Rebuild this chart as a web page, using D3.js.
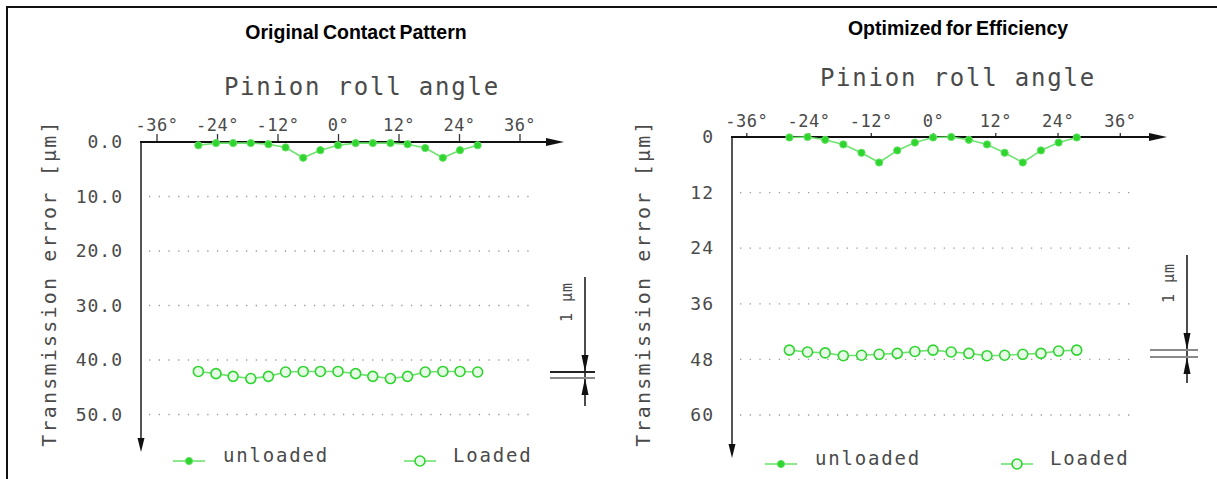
<!DOCTYPE html>
<html>
<head>
<meta charset="utf-8">
<script src="https://cdn.jsdelivr.net/npm/d3@7"></script>
<style>
  html, body { margin: 0; padding: 0; background: #fff; }
  svg { display: block; }
  .cad { font-family: "DejaVu Sans Mono", monospace; fill: #4a4a4a; }
  .title { font-family: "Liberation Sans", Arial, sans-serif; font-weight: bold; fill: #000; }
</style>
</head>
<body>
<svg id="chart" width="1217" height="479"></svg>
<script>
// ---------------- DATA ----------------
const panelTitles = ["Original Contact Pattern", "Optimized for Efficiency"];
const xAxisTitle = "Pinion roll angle";
const yAxisTitle = "Transmission error [\u00B5m]";
const xTickValues = [-36, -24, -12, 0, 12, 24, 36];
const leftYTicks = [0, 10, 20, 30, 40, 50];
const rightYTicks = [0, 12, 24, 36, 48, 60];
const legendLabels = ["unloaded", "Loaded"];
const scaleBarLabel = "1 \u00B5m";

// pinion roll angle (deg), two tooth pitches sampled in 8 steps each
const rollAngle = [-27.7, -24.2, -20.8, -17.3, -13.8, -10.4, -6.9, -3.5, 0, 3.5, 6.9, 10.4, 13.8, 17.3, 20.8, 24.2, 27.7];

// Original contact pattern
const origUnloaded = [0.6, 0.2, 0.2, 0.2, 0.4, 1.0, 2.9, 1.5, 0.6, 0.2, 0.2, 0.2, 0.4, 1.1, 2.9, 1.5, 0.6];
const origLoaded   = [42.1, 42.5, 43.0, 43.4, 43.0, 42.2, 42.1, 42.1, 42.1, 42.5, 43.0, 43.4, 43.0, 42.2, 42.1, 42.1, 42.2];

// Optimized for efficiency
const optUnloaded = [0.1, 0.0, 0.6, 1.6, 3.4, 5.5, 2.9, 1.2, 0.1, 0.0, 0.6, 1.6, 3.4, 5.5, 2.9, 1.2, 0.1];
const optLoaded   = [46.0, 46.4, 46.6, 47.2, 47.1, 46.9, 46.7, 46.3, 46.0, 46.4, 46.7, 47.2, 47.1, 46.9, 46.7, 46.2, 46.0];

// ---------------- DRAWING ----------------
const svg = d3.select("#chart");
const GREEN_LINE = "#6fe36f";
const GREEN_MARK = "#2fd42f";

// outer frame (left and top edges visible)
svg.append("rect").attr("x", 7).attr("y", 7).attr("width", 1240).attr("height", 500)
  .attr("fill", "none").attr("stroke", "#111").attr("stroke-width", 2);

function panel(cfg) {
  const x = d3.scaleLinear().domain([-36, 36]).range(cfg.xRange);
  const y = d3.scaleLinear().domain([cfg.yTicks[0], cfg.yTicks[cfg.yTicks.length - 1]]).range(cfg.yRange);
  const x0 = cfg.axisX, y0 = y(0);
  const g = svg.append("g");

  // title
  g.append("text").attr("class", "title").attr("x", cfg.titleX).attr("y", cfg.titleY)
    .attr("text-anchor", "middle").attr("font-size", 19.5).attr("word-spacing", -1.5).text(cfg.title);

  // x axis title
  g.append("text").attr("class", "cad").attr("x", cfg.xTitleX).attr("y", cfg.xTitleY)
    .attr("text-anchor", "middle").attr("font-size", 24).attr("letter-spacing", 1.8).text(xAxisTitle);

  // y axis title
  g.append("text").attr("class", "cad")
    .attr("transform", `translate(${cfg.yTitleX},${cfg.yTitleY}) rotate(-90)`)
    .attr("text-anchor", "middle").attr("font-size", 20).attr("letter-spacing", 2.2).text(yAxisTitle);

  // gridlines
  g.append("g").selectAll("line").data(cfg.yTicks.filter(d => d !== 0)).join("line")
    .attr("x1", x0 + 8).attr("x2", cfg.gridEnd)
    .attr("y1", d => y(d)).attr("y2", d => y(d))
    .attr("stroke", "#9a9a9a").attr("stroke-width", 1.3).attr("stroke-dasharray", "1.3,8.4");

  // x axis ticks + labels
  const xa = g.append("g").attr("transform", `translate(0,${y0})`)
    .call(d3.axisTop(x).tickValues(xTickValues).tickSize(cfg.xTickSize).tickPadding(cfg.xTickPad)
      .tickFormat(d => (d < 0 ? "-" + Math.abs(d) : d) + "\u00B0"));
  xa.select(".domain").remove();
  xa.selectAll(".tick line").attr("stroke", "#333").attr("stroke-width", 1.3);
  xa.selectAll(".tick text").attr("class", "cad").attr("font-size", 17).attr("letter-spacing", 0.5);

  // y axis labels
  const ya = g.append("g").attr("transform", `translate(${x0},0)`)
    .call(d3.axisLeft(y).tickValues(cfg.yTicks).tickSize(0).tickPadding(cfg.yTickPad).tickFormat(cfg.yFormat));
  ya.select(".domain").remove();
  ya.selectAll(".tick text").attr("class", "cad").attr("font-size", 18).attr("letter-spacing", 1);

  // y axis with arrow (downwards)
  g.append("line").attr("x1", x0).attr("x2", x0).attr("y1", y0).attr("y2", cfg.yArrowEnd - 4)
    .attr("stroke", "#555").attr("stroke-width", 2);
  g.append("path").attr("d", `M${x0 - 3.5},${cfg.yArrowEnd - 14}L${x0 + 3.5},${cfg.yArrowEnd - 14}L${x0},${cfg.yArrowEnd}Z`)
    .attr("fill", "#111");

  // x axis with arrow
  g.append("line").attr("x1", x0 - 1).attr("x2", cfg.xArrowEnd - 10).attr("y1", y0).attr("y2", y0)
    .attr("stroke", "#111").attr("stroke-width", 2.2);
  g.append("path").attr("d", `M${cfg.xArrowEnd - 18},${y0 - 4}L${cfg.xArrowEnd},${y0}L${cfg.xArrowEnd - 18},${y0 + 4}Z`)
    .attr("fill", "#111");

  const line = d3.line().x(d => x(d[0])).y(d => y(d[1]));

  // unloaded
  const un = rollAngle.map((a, i) => [a, cfg.unloaded[i]]);
  g.append("path").datum(un).attr("d", line).attr("fill", "none")
    .attr("stroke", GREEN_LINE).attr("stroke-width", 1.6);
  g.append("g").selectAll("circle").data(un).join("circle")
    .attr("cx", d => x(d[0])).attr("cy", d => y(d[1])).attr("r", 3.6)
    .attr("fill", GREEN_MARK).attr("stroke", "#5ee35e").attr("stroke-width", 1);

  // loaded
  const lo = rollAngle.map((a, i) => [a, cfg.loaded[i]]);
  g.append("path").datum(lo).attr("d", line).attr("fill", "none")
    .attr("stroke", GREEN_LINE).attr("stroke-width", 1.6);
  g.append("g").selectAll("circle").data(lo).join("circle")
    .attr("cx", d => x(d[0])).attr("cy", d => y(d[1])).attr("r", 5)
    .attr("fill", "#e6fbe6").attr("stroke", GREEN_MARK).attr("stroke-width", 1.6);

  // scale bar "1 µm"
  const sb = cfg.scaleBar;
  g.append("line").attr("x1", sb.x).attr("x2", sb.x).attr("y1", sb.top).attr("y2", sb.bottom)
    .attr("stroke", "#111").attr("stroke-width", 1.5);
  g.append("path").attr("d", `M${sb.x - 3.5},${sb.l1 - 17}L${sb.x + 3.5},${sb.l1 - 17}L${sb.x},${sb.l1}Z`).attr("fill", "#111");
  g.append("path").attr("d", `M${sb.x - 3.5},${sb.l2 + 17}L${sb.x + 3.5},${sb.l2 + 17}L${sb.x},${sb.l2}Z`).attr("fill", "#111");
  g.append("line").attr("x1", sb.x1).attr("x2", sb.x2).attr("y1", sb.l1).attr("y2", sb.l1)
    .attr("stroke", sb.c1).attr("stroke-width", 2);
  g.append("line").attr("x1", sb.x1).attr("x2", sb.x2).attr("y1", sb.l2).attr("y2", sb.l2)
    .attr("stroke", "#8a8a8a").attr("stroke-width", 2);
  g.append("text").attr("class", "cad")
    .attr("transform", `translate(${sb.labelX},${sb.labelY}) rotate(-90)`)
    .attr("text-anchor", "middle").attr("font-size", 15).attr("letter-spacing", 1).text(scaleBarLabel);

  // legend
  const lg = cfg.legend;
  // unloaded
  g.append("line").attr("x1", lg.ux).attr("x2", lg.ux + 32).attr("y1", lg.y).attr("y2", lg.y)
    .attr("stroke", GREEN_LINE).attr("stroke-width", 1.6);
  g.append("circle").attr("cx", lg.ux + 16).attr("cy", lg.y).attr("r", 3.6)
    .attr("fill", GREEN_MARK).attr("stroke", "#5ee35e").attr("stroke-width", 1);
  g.append("text").attr("class", "cad").attr("x", lg.ux + 50).attr("y", lg.y + 1)
    .attr("font-size", 19).attr("letter-spacing", 1.8).text(legendLabels[0]);
  // loaded
  g.append("line").attr("x1", lg.lx).attr("x2", lg.lx + 32).attr("y1", lg.y).attr("y2", lg.y)
    .attr("stroke", GREEN_LINE).attr("stroke-width", 1.6);
  g.append("circle").attr("cx", lg.lx + 16).attr("cy", lg.y).attr("r", 5)
    .attr("fill", "#e6fbe6").attr("stroke", GREEN_MARK).attr("stroke-width", 1.6);
  g.append("text").attr("class", "cad").attr("x", lg.lx + 49).attr("y", lg.y + 1)
    .attr("font-size", 19).attr("letter-spacing", 1.8).text(legendLabels[1]);
}

panel({
  title: panelTitles[0], titleX: 356, titleY: 39,
  xTitleX: 362, xTitleY: 95, yTitleX: 56, yTitleY: 283,
  xRange: [156.5, 519.5], yRange: [142, 414.5], yTicks: leftYTicks, yFormat: d3.format(".1f"),
  axisX: 141, xArrowEnd: 564, yArrowEnd: 452, gridEnd: 532,
  xTickSize: 8, xTickPad: 3, yTickPad: 18,
  unloaded: origUnloaded, loaded: origLoaded,
  scaleBar: { x: 585, top: 277, bottom: 406, l1: 372, l2: 378, x1: 550, x2: 595, c1: "#222", labelX: 572, labelY: 302 },
  legend: { ux: 173, lx: 404, y: 461 }
});

panel({
  title: panelTitles[1], titleX: 958, titleY: 35,
  xTitleX: 958, xTitleY: 86, yTitleX: 650, yTitleY: 283,
  xRange: [746.3, 1119.8], yRange: [137, 415], yTicks: rightYTicks, yFormat: d3.format("d"),
  axisX: 732, xArrowEnd: 1167, yArrowEnd: 458, gridEnd: 1132,
  xTickSize: 4, xTickPad: 6, yTickPad: 18,
  unloaded: optUnloaded, loaded: optLoaded,
  scaleBar: { x: 1187, top: 255, bottom: 383, l1: 350, l2: 357, x1: 1150, x2: 1198, c1: "#8a8a8a", labelX: 1174, labelY: 283 },
  legend: { ux: 765, lx: 1001, y: 464 }
});
</script>
</body>
</html>
